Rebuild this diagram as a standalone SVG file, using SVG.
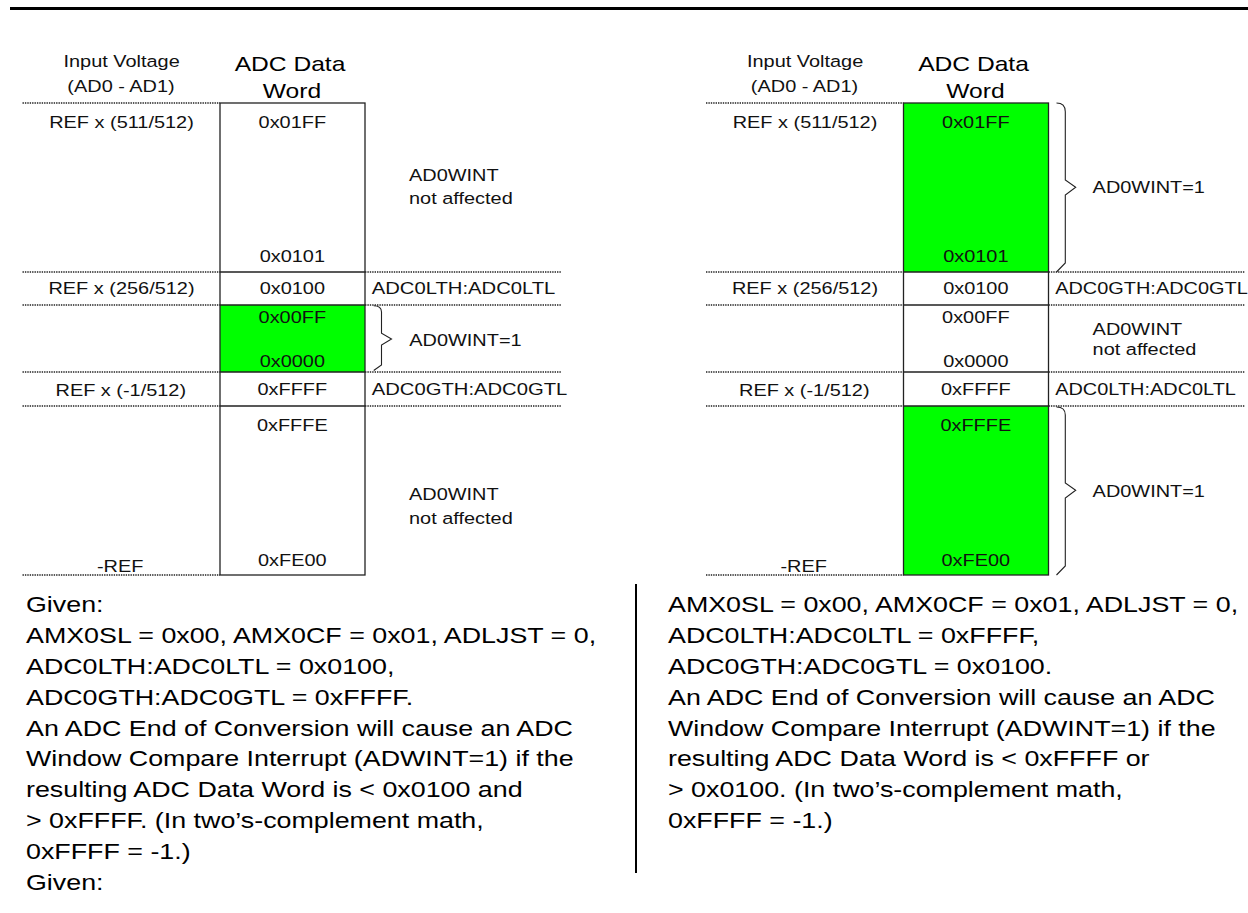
<svg xmlns="http://www.w3.org/2000/svg" width="1248" height="913" viewBox="0 0 1248 913">
<style>
text{font-family:"Liberation Sans",Arial,sans-serif;fill:#111}
.s{font-size:16.6px}
.h{font-size:20.5px;fill:#000}
.b{font-size:22px;fill:#000}
.m{text-anchor:middle}
.dot{stroke:#222;stroke-width:1.6;stroke-dasharray:1.4 1;fill:none}
.box{fill:none;stroke:#222;stroke-width:1.3}
.grn{fill:#00ff00}
.br{fill:none;stroke:#222;stroke-width:1.1}
</style>
<g id="top-rule"><line x1="10" y1="8.5" x2="1248" y2="8.5" stroke="#000" stroke-width="3"/></g>

<g id="left-panel">
  <g id="left-grid">
    <rect class="grn" x="220" y="305" width="145" height="67"/>
    <path class="dot" d="M22.5,103H220M22.5,272H220M22.5,305H220M22.5,372H220M22.5,406H220M22.5,575H220"/>
    <path class="dot" d="M365,272H561.5M365,305H561.5M365,372H561.5M365,406H561.5"/>
    <rect class="box" x="220" y="103" width="145" height="472"/>
    <path class="box" d="M220,272H365M220,305H365M220,372H365M220,406H365"/>
  </g>
  <g id="left-header">
    <text class="s m" transform="matrix(1.2 0 0 1 121.6 67)">Input Voltage</text>
    <text class="s m" transform="matrix(1.2 0 0 1 121 92)">(AD0 - AD1)</text>
    <text class="h m" transform="matrix(1.2 0 0 1 290 71)">ADC Data</text>
    <text class="h m" transform="matrix(1.2 0 0 1 292 97.5)">Word</text>
  </g>
  <g id="left-rows">
    <text class="s m" transform="matrix(1.2 0 0 1 121.5 128)">REF x (511/512)</text>
    <text class="s m" transform="matrix(1.2 0 0 1 292.3 128)">0x01FF</text>
    <text class="s m" transform="matrix(1.2 0 0 1 292.3 262)">0x0101</text>
    <text class="s m" transform="matrix(1.2 0 0 1 121.5 294)">REF x (256/512)</text>
    <text class="s m" transform="matrix(1.2 0 0 1 292.3 294)">0x0100</text>
    <text class="s" transform="matrix(1.22 0 0 1 371.7 294)">ADC0LTH:ADC0LTL</text>
    <text class="s m" transform="matrix(1.2 0 0 1 292.3 322.5)">0x00FF</text>
    <text class="s m" transform="matrix(1.2 0 0 1 292.3 367)">0x0000</text>
    <text class="s m" transform="matrix(1.2 0 0 1 120.8 395.5)">REF x (-1/512)</text>
    <text class="s m" transform="matrix(1.2 0 0 1 292.3 395)">0xFFFF</text>
    <text class="s" transform="matrix(1.22 0 0 1 371.7 395)">ADC0GTH:ADC0GTL</text>
    <text class="s m" transform="matrix(1.2 0 0 1 292.3 431)">0xFFFE</text>
    <text class="s m" transform="matrix(1.2 0 0 1 292.3 566)">0xFE00</text>
    <text class="s m" transform="matrix(1.2 0 0 1 120.2 571.5)">-REF</text>
  </g>
  <g id="left-labels">
    <text class="s" transform="matrix(1.2 0 0 1 409 181)"><tspan x="0" y="0">AD0WINT</tspan><tspan x="0" y="23">not affected</tspan></text>
    <path class="br" d="M373.7,305.7Q381.5,305.7 381.5,312V333.3L391.5,339L381.5,345V365L373.7,370.5"/>
    <text class="s" transform="matrix(1.2 0 0 1 409.3 346)">AD0WINT=1</text>
    <text class="s" transform="matrix(1.2 0 0 1 409 500)"><tspan x="0" y="0">AD0WINT</tspan><tspan x="0" y="24">not affected</tspan></text>
  </g>
</g>

<g id="right-panel" transform="translate(683.5 0)">
  <g id="right-grid">
    <rect class="grn" x="220" y="103" width="145" height="169"/>
    <rect class="grn" x="220" y="406" width="145" height="169"/>
    <path class="dot" d="M22.5,103H220M22.5,272H220M22.5,305H220M22.5,372H220M22.5,406H220M22.5,575H220"/>
    <path class="dot" d="M365,272H561.5M365,305H561.5M365,372H561.5M365,406H561.5"/>
    <rect class="box" x="220" y="103" width="145" height="472"/>
    <path class="box" d="M220,272H365M220,305H365M220,372H365M220,406H365"/>
  </g>
  <g id="right-header">
    <text class="s m" transform="matrix(1.2 0 0 1 121.6 67)">Input Voltage</text>
    <text class="s m" transform="matrix(1.2 0 0 1 121 92)">(AD0 - AD1)</text>
    <text class="h m" transform="matrix(1.2 0 0 1 290 71)">ADC Data</text>
    <text class="h m" transform="matrix(1.2 0 0 1 292 97.5)">Word</text>
  </g>
  <g id="right-rows">
    <text class="s m" transform="matrix(1.2 0 0 1 121.5 128)">REF x (511/512)</text>
    <text class="s m" transform="matrix(1.2 0 0 1 292.3 128)">0x01FF</text>
    <text class="s m" transform="matrix(1.2 0 0 1 292.3 262)">0x0101</text>
    <text class="s m" transform="matrix(1.2 0 0 1 121.5 294)">REF x (256/512)</text>
    <text class="s m" transform="matrix(1.2 0 0 1 292.3 294)">0x0100</text>
    <text class="s" transform="matrix(1.2 0 0 1 371.7 294)">ADC0GTH:ADC0GTL</text>
    <text class="s m" transform="matrix(1.2 0 0 1 292.3 322.5)">0x00FF</text>
    <text class="s m" transform="matrix(1.2 0 0 1 292.3 367)">0x0000</text>
    <text class="s m" transform="matrix(1.2 0 0 1 120.8 395.5)">REF x (-1/512)</text>
    <text class="s m" transform="matrix(1.2 0 0 1 292.3 395)">0xFFFF</text>
    <text class="s" transform="matrix(1.2 0 0 1 371.7 395)">ADC0LTH:ADC0LTL</text>
    <text class="s m" transform="matrix(1.2 0 0 1 292.3 431)">0xFFFE</text>
    <text class="s m" transform="matrix(1.2 0 0 1 292.3 566)">0xFE00</text>
    <text class="s m" transform="matrix(1.2 0 0 1 120.2 571.5)">-REF</text>
  </g>
  <g id="right-labels">
    <path class="br" d="M373,103Q381.8,103 381.8,111.7V180L392.2,187.3L381.8,195V263L373,272"/>
    <text class="s" transform="matrix(1.2 0 0 1 409.1 193)">AD0WINT=1</text>
    <text class="s" transform="matrix(1.2 0 0 1 409.1 335)"><tspan x="0" y="0">AD0WINT</tspan><tspan x="0" y="20.5">not affected</tspan></text>
    <path class="br" d="M373,407Q381.8,407 381.8,415V483L392.2,490.3L381.8,498V566L373,575"/>
    <text class="s" transform="matrix(1.2 0 0 1 409.1 497)">AD0WINT=1</text>
  </g>
</g>

<g id="divider"><line x1="636" y1="584" x2="636" y2="873" stroke="#000" stroke-width="2"/></g>

<g id="notes-left">
  <text class="b" transform="matrix(1.22 0 0 1 26 612)">
    <tspan x="0" y="0">Given:</tspan>
    <tspan x="0" y="30.9">AMX0SL = 0x00, AMX0CF = 0x01, ADLJST = 0,</tspan>
    <tspan x="0" y="61.8">ADC0LTH:ADC0LTL = 0x0100,</tspan>
    <tspan x="0" y="92.7">ADC0GTH:ADC0GTL = 0xFFFF.</tspan>
    <tspan x="0" y="123.6">An ADC End of Conversion will cause an ADC</tspan>
    <tspan x="0" y="154.5">Window Compare Interrupt (ADWINT=1) if the</tspan>
    <tspan x="0" y="185.4">resulting ADC Data Word is &lt; 0x0100 and</tspan>
    <tspan x="0" y="216.3">&gt; 0xFFFF. (In two’s-complement math,</tspan>
    <tspan x="0" y="247.2">0xFFFF = -1.)</tspan>
    <tspan x="0" y="278.1">Given:</tspan>
  </text>
</g>
<g id="notes-right">
  <text class="b" transform="matrix(1.22 0 0 1 668 612)">
    <tspan x="0" y="0">AMX0SL = 0x00, AMX0CF = 0x01, ADLJST = 0,</tspan>
    <tspan x="0" y="30.9">ADC0LTH:ADC0LTL = 0xFFFF,</tspan>
    <tspan x="0" y="61.8">ADC0GTH:ADC0GTL = 0x0100.</tspan>
    <tspan x="0" y="92.7">An ADC End of Conversion will cause an ADC</tspan>
    <tspan x="0" y="123.6">Window Compare Interrupt (ADWINT=1) if the</tspan>
    <tspan x="0" y="154.5">resulting ADC Data Word is &lt; 0xFFFF or</tspan>
    <tspan x="0" y="185.4">&gt; 0x0100. (In two’s-complement math,</tspan>
    <tspan x="0" y="216.3">0xFFFF = -1.)</tspan>
  </text>
</g>
</svg>
